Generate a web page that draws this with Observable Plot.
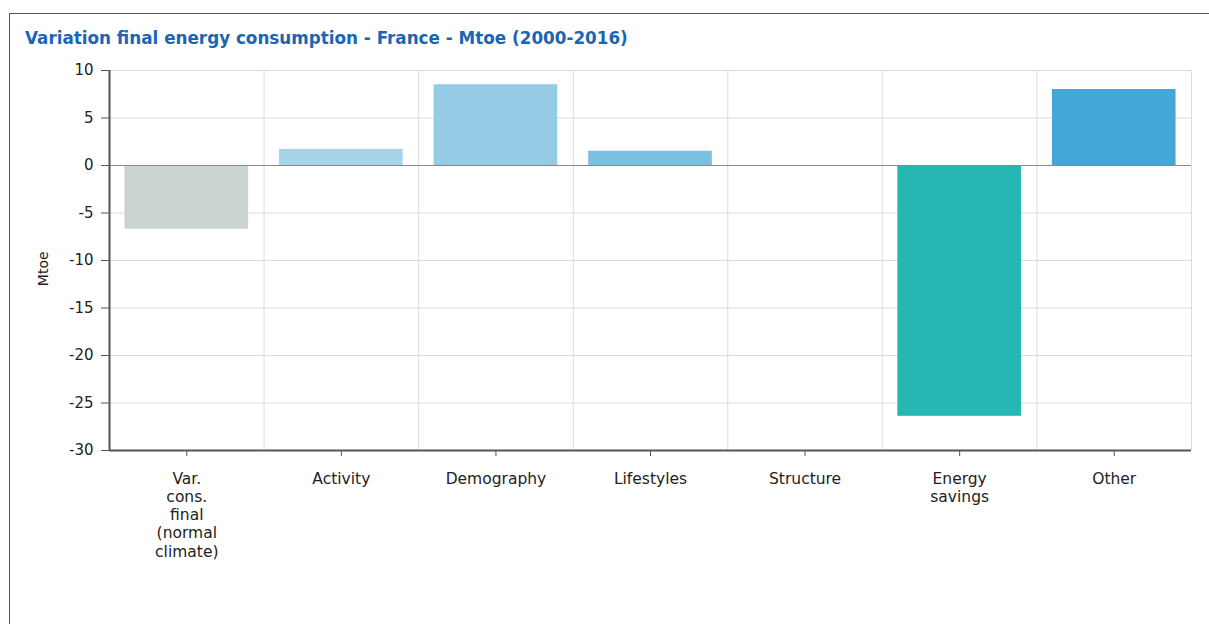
<!DOCTYPE html>
<html>
<head>
<meta charset="utf-8">
<script src="https://cdn.jsdelivr.net/npm/d3@7"></script>
<script src="https://cdn.jsdelivr.net/npm/@observablehq/plot@0.6"></script>
<style>
  html, body { margin: 0; padding: 0; background: #fff; width: 1209px; height: 624px; overflow: hidden; }
  #frame { position: absolute; left: 9px; top: 13px; right: -2px; bottom: -2px; border-left: 1.5px solid #555; border-top: 1.5px solid #555; }
  #title { position: absolute; left: 25px; top: 28px; font-family: "DejaVu Sans", Verdana, sans-serif; font-weight: bold; font-size: 16.8px; color: #1a66b4; white-space: nowrap; }
  #chart { position: absolute; left: 0; top: 0; }
</style>
</head>
<body>
<div id="frame"></div>
<div id="title">Variation final energy consumption - France - Mtoe (2000-2016)</div>
<div id="chart"></div>
<script>
const categories = ["Var.\ncons.\nfinal\n(normal\nclimate)", "Activity", "Demography", "Lifestyles", "Structure", "Energy\nsavings", "Other"];
const values = [-6.7, 1.7, 8.5, 1.5, 0, -26.4, 8.0];
const colors = ["#c9d3d1", "#a8d4eb", "#95cbe5", "#7bc0e1", "#7bc0e1", "#27b7b2", "#45a7d6"];
const yTicks = [10, 5, 0, -5, -10, -15, -20, -25, -30];

const data = categories.map((c, i) => ({i, c, v: values[i], color: colors[i]}));
const bounds = d3.range(categories.length + 1).map(k => k - 0.5);

const font = "DejaVu Sans, Verdana, sans-serif";

const chart = Plot.plot({
  width: 1209,
  height: 624,
  marginTop: 70,
  marginBottom: 174,
  marginLeft: 109,
  marginRight: 18,
  style: {fontFamily: font, fontSize: "15px", color: "#222", background: "transparent"},
  x: {domain: [-0.5, categories.length - 0.5], axis: null},
  y: {domain: [-30, 10], axis: null},
  marks: [
    Plot.ruleY(yTicks, {stroke: "#dcdcdc", strokeWidth: 1}),
    Plot.ruleX(bounds.slice(1), {stroke: "#dcdcdc", strokeWidth: 1}),
    Plot.rectY(data, {x1: d => d.i - 0.4, x2: d => d.i + 0.4, y1: 0, y2: "v", fill: "color"}),
    Plot.ruleY([0], {stroke: "#8a8a8a", strokeWidth: 1.2}),
    Plot.ruleX([-0.5], {stroke: "#555", strokeWidth: 2}),
    Plot.ruleY([-30], {stroke: "#555", strokeWidth: 2}),
    Plot.axisY({ticks: yTicks, tickSize: 8, tickPadding: 8, tickFormat: d => String(d), stroke: "#555", fill: "#222", fontSize: 15, label: null}),
    Plot.axisX({ticks: d3.range(categories.length), tickSize: 6, tickPadding: 14, tickFormat: i => categories[i], stroke: "#555", fill: "#222", fontSize: 15.5, lineHeight: 1.18, label: null}),
    Plot.text(["Mtoe"], {frameAnchor: "left", dx: -66, rotate: -90, fontSize: 14, fill: "#222", y: -12.7})
  ]
});
document.getElementById("chart").appendChild(chart);
</script>
</body>
</html>
